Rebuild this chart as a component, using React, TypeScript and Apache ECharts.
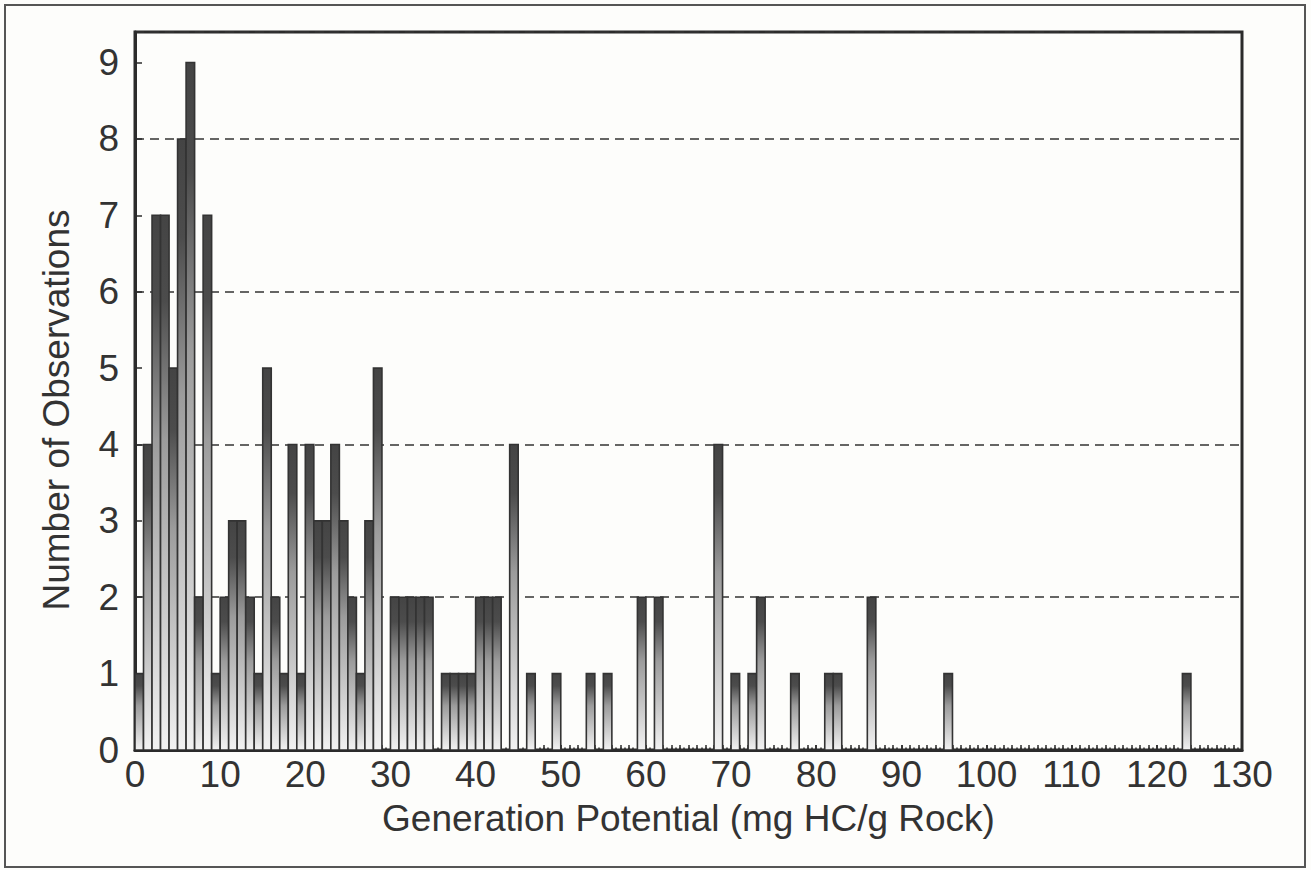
import React, { useEffect, useRef } from "react";
import * as echarts from "echarts";

// Histogram bins of width 1 (mg HC/g Rock), starting at 0
const binCounts: number[] = [
  1, 4, 7, 7, 5, 8, 9, 2, 7, 1, // 0-9
  2, 3, 3, 2, 1, 5, 2, 1, 4, 1, // 10-19
  4, 3, 3, 4, 3, 2, 1, 3, 5, 0, // 20-29
  2, 2, 2, 2, 2, 0, 1, 1, 1, 1, // 30-39
  2, 2, 2, 0, 4, 0, 1, 0, 0, 1, // 40-49
  0, 0, 0, 1, 0, 1, 0, 0, 0, 2, // 50-59
  0, 2, 0, 0, 0, 0, 0, 0, 4, 0, // 60-69
  1, 0, 1, 2, 0, 0, 0, 1, 0, 0, // 70-79
  0, 1, 1, 0, 0, 0, 2, 0, 0, 0, // 80-89
  0, 0, 0, 0, 0, 1, 0, 0, 0, 0, // 90-99
  0, 0, 0, 0, 0, 0, 0, 0, 0, 0, // 100-109
  0, 0, 0, 0, 0, 0, 0, 0, 0, 0, // 110-119
  0, 0, 0, 1, 0, 0, 0, 0, 0, 0, // 120-129
];
const binWidth = 1;
const xMin = 0;
const xMax = 130;
const yMin = 0;
const yMax = 9.4;
const xTitle = "Generation Potential (mg HC/g Rock)";
const yTitle = "Number of Observations";

export default function App() {
  const ref = useRef<HTMLDivElement>(null);
  useEffect(() => {
    if (!ref.current) return;
    const chart = echarts.init(ref.current, undefined, { renderer: "svg" });
    const data = binCounts.map((c, i) => [xMin + i * binWidth, c]);
    const font = "Liberation Sans, Arial, Helvetica, sans-serif";
    const ink = "#2b2b2b";
    const option: any = {
      animation: false,
      backgroundColor: "#fdfdfb",
      grid: {
        left: 135,
        right: 69,
        top: 32,
        bottom: 120,
        show: true,
        borderColor: ink,
        borderWidth: 3,
        backgroundColor: "transparent",
      },
      xAxis: [
        {
          type: "value",
          min: xMin,
          max: xMax,
          interval: 10,
          axisLine: { show: true, onZero: false, lineStyle: { color: ink, width: 3 } },
          axisTick: { show: true, inside: true, length: 5, lineStyle: { color: ink, width: 1.5 } },
          minorTick: { show: true, splitNumber: 20, length: 2.5, lineStyle: { color: ink, width: 1.5 } },
          axisLabel: { color: "#333", fontFamily: font, fontSize: 37, margin: 6 },
          splitLine: { show: false },
          name: xTitle,
          nameLocation: "middle",
          nameGap: 50,
          nameTextStyle: { color: "#333", fontFamily: font, fontSize: 37 },
        },
        {
          type: "value",
          min: xMin,
          max: xMax,
          interval: 1,
          position: "bottom",
          axisLine: { show: false },
          axisTick: { show: true, inside: true, length: 5, lineStyle: { color: ink, width: 1.5 } },
          axisLabel: { show: false },
          splitLine: { show: false },
        },
      ],
      yAxis: [
        {
          type: "value",
          min: yMin,
          max: yMax,
          interval: 1,
          axisLine: { show: true, onZero: false, lineStyle: { color: ink, width: 3 } },
          axisTick: { show: true, inside: true, length: 7, lineStyle: { color: ink, width: 1.5 } },
          axisLabel: {
            color: "#333",
            fontFamily: font,
            fontSize: 37,
            margin: 16,
            showMaxLabel: false,
          },
          splitLine: { show: false },
          name: yTitle,
          nameLocation: "middle",
          nameGap: 60,
          nameTextStyle: { color: "#333", fontFamily: font, fontSize: 37, padding: [0, 0, 0, -38] },
        },
        {
          type: "value",
          min: yMin,
          max: yMax,
          interval: 2,
          axisLine: { show: false },
          axisTick: { show: false },
          axisLabel: { show: false },
          splitLine: { show: true, lineStyle: { color: "#333", width: 1.5, type: [9, 6] } },
        },
      ],
      graphic: [
        {
          type: "rect",
          shape: { x: 5, y: 5, width: 1300, height: 862 },
          style: { fill: "none", stroke: "#555", lineWidth: 2 },
          silent: true,
          z: -1,
        },
      ],
      series: [
        {
          type: "custom",
          xAxisIndex: 0,
          yAxisIndex: 0,
          data,
          encode: { x: 0, y: 1 },
          clip: true,
          renderItem: (params: any, api: any) => {
            const x0 = api.value(0);
            const v = api.value(1);
            if (!v) return null;
            const p0 = api.coord([x0, v]);
            const p1 = api.coord([x0 + binWidth, 0]);
            return {
              type: "rect",
              shape: { x: p0[0], y: p0[1], width: p1[0] - p0[0], height: p1[1] - p0[1] },
              style: {
                fill: new echarts.graphic.LinearGradient(0, 0, 0, 1, [
                  { offset: 0, color: "#444444" },
                  { offset: 0.16, color: "#4c4c4c" },
                  { offset: 0.42, color: "#9c9c9c" },
                  { offset: 1, color: "#f2f2f2" },
                ]),
                stroke: "#333333",
                lineWidth: 1.6,
              },
            };
          },
        },
      ],
    };
    chart.setOption(option);
    return () => chart.dispose();
  }, []);
  return (
    <div
      ref={ref}
      style={{ position: "fixed", left: 0, top: 0, width: 1311, height: 870 }}
    />
  );
}
